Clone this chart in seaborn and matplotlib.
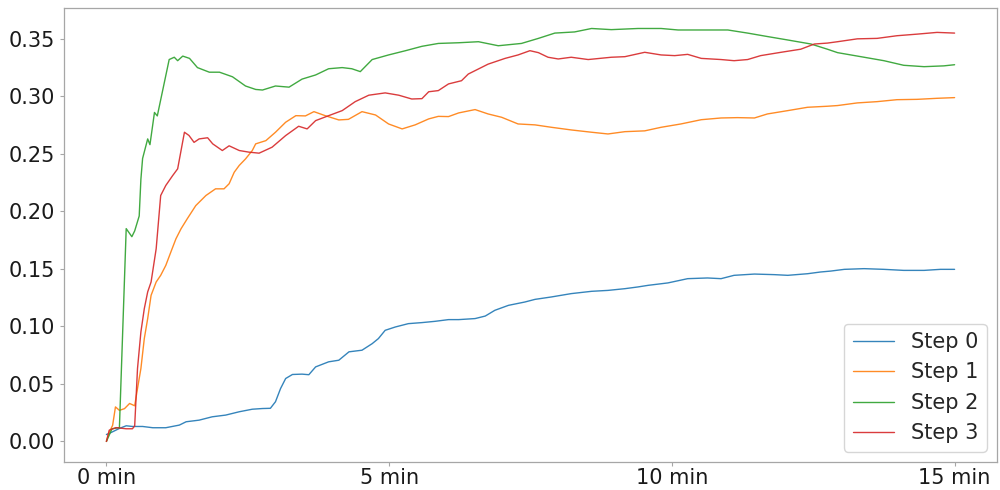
import pandas as pd
import matplotlib
matplotlib.use("Agg")
import matplotlib.pyplot as plt
import seaborn as sns

t_step0 = [0, 0.05, 0.11, 0.23, 0.35, 0.46, 0.64, 0.82, 1.05, 1.29, 1.41, 1.64, 1.87, 2.11, 2.35, 2.58,
           2.76, 2.90, 2.99, 3.08, 3.17, 3.29, 3.46, 3.58, 3.70, 3.93, 4.11, 4.29, 4.52, 4.70, 4.81, 4.93,
           5.11, 5.34, 5.58, 5.81, 6.05, 6.23, 6.52, 6.70, 6.87, 7.11, 7.40, 7.58, 7.87, 8.22, 8.58, 8.87,
           9.17, 9.40, 9.58, 9.93, 10.28, 10.63, 10.87, 11.10, 11.46, 11.81, 12.05, 12.40, 12.63, 12.81,
           13.05, 13.40, 13.75, 14.10, 14.46, 14.75, 15.0]
v_step0 = [0.006, 0.007, 0.0084, 0.0113, 0.0136, 0.013, 0.013, 0.0119, 0.0119, 0.0142, 0.0171, 0.0185,
           0.0214, 0.0229, 0.0258, 0.028, 0.0286, 0.0288, 0.0345, 0.046, 0.0547, 0.0582, 0.0585, 0.058,
           0.0648, 0.0692, 0.0706, 0.0779, 0.0793, 0.085, 0.0894, 0.0966, 0.0995, 0.1024, 0.1033, 0.1044,
           0.1059, 0.1059, 0.1068, 0.109, 0.114, 0.1183, 0.1212, 0.1235, 0.1256, 0.1285, 0.1305, 0.1313,
           0.1328, 0.1343, 0.1357, 0.1378, 0.1415, 0.1421, 0.1415, 0.1444, 0.1455, 0.145, 0.1444, 0.1458,
           0.1473, 0.1481, 0.1496, 0.1502, 0.1496, 0.1487, 0.1487, 0.1496, 0.1496]

t_step1 = [0, 0.05, 0.11, 0.16, 0.23, 0.32, 0.41, 0.5, 0.55, 0.61, 0.67, 0.73, 0.79, 0.88, 0.96, 1.05,
           1.14, 1.23, 1.32, 1.43, 1.58, 1.76, 1.93, 2.08, 2.17, 2.26, 2.35, 2.46, 2.58, 2.64, 2.82, 2.99,
           3.17, 3.35, 3.52, 3.67, 3.87, 4.11, 4.28, 4.52, 4.76, 4.99, 5.23, 5.46, 5.70, 5.87, 6.05, 6.23,
           6.52, 6.75, 6.99, 7.28, 7.58, 7.87, 8.22, 8.58, 8.87, 9.17, 9.52, 9.81, 10.16, 10.52, 10.87,
           11.16, 11.46, 11.69, 12.05, 12.40, 12.75, 12.93, 13.28, 13.63, 13.98, 14.34, 14.69, 15.0]
v_step1 = [0.0, 0.008, 0.014, 0.030, 0.027, 0.0285, 0.033, 0.031, 0.046, 0.0634, 0.0894, 0.1068, 0.127,
           0.1386, 0.1444, 0.153, 0.1647, 0.1762, 0.1849, 0.1936, 0.205, 0.2138, 0.2196, 0.2196, 0.224,
           0.234, 0.24, 0.2456, 0.2529, 0.2587, 0.2615, 0.2688, 0.2775, 0.2832, 0.283, 0.2867, 0.2832,
           0.2795, 0.28, 0.2867, 0.2838, 0.276, 0.2717, 0.2752, 0.2804, 0.2826, 0.2824, 0.2856, 0.2885,
           0.2847, 0.2818, 0.276, 0.2752, 0.2731, 0.2708, 0.2688, 0.2673, 0.2693, 0.270, 0.2731, 0.276,
           0.2797, 0.2812, 0.2815, 0.2812, 0.2847, 0.2876, 0.2905, 0.2914, 0.292, 0.2943, 0.2954, 0.2971,
           0.2974, 0.2983, 0.2989]

t_step2 = [0, 0.1, 0.23, 0.35, 0.45, 0.5, 0.58, 0.61, 0.64, 0.73, 0.77, 0.85, 0.90, 0.99, 1.11, 1.20,
           1.26, 1.35, 1.47, 1.61, 1.82, 2.0, 2.23, 2.46, 2.64, 2.76, 2.99, 3.23, 3.46, 3.70, 3.93, 4.17,
           4.34, 4.49, 4.70, 4.99, 5.29, 5.58, 5.87, 6.23, 6.58, 6.93, 7.34, 7.64, 7.93, 8.28, 8.58, 8.93,
           9.40, 9.81, 10.11, 10.52, 10.99, 11.34, 11.69, 12.05, 12.46, 12.75, 12.93, 13.40, 13.75, 14.10,
           14.46, 14.81, 15.0]
v_step2 = [0.0, 0.011, 0.012, 0.185, 0.178, 0.183, 0.196, 0.228, 0.246, 0.263, 0.258, 0.286, 0.283,
           0.304, 0.332, 0.334, 0.331, 0.335, 0.333, 0.325, 0.321, 0.321, 0.317, 0.309, 0.306, 0.3055,
           0.309, 0.308, 0.315, 0.3186, 0.324, 0.325, 0.324, 0.3215, 0.332, 0.336, 0.3397, 0.3435, 0.346,
           0.3466, 0.3475, 0.344, 0.346, 0.3504, 0.355, 0.356, 0.359, 0.358, 0.359, 0.359, 0.3577, 0.3577,
           0.3577, 0.355, 0.352, 0.349, 0.3455, 0.341, 0.338, 0.334, 0.331, 0.327, 0.3258, 0.3265, 0.3275]

t_step3 = [0, 0.05, 0.17, 0.35, 0.46, 0.50, 0.55, 0.61, 0.67, 0.73, 0.79, 0.88, 0.96, 1.05, 1.17, 1.26,
           1.38, 1.46, 1.55, 1.64, 1.79, 1.88, 2.05, 2.17, 2.35, 2.52, 2.70, 2.93, 3.17, 3.40, 3.55, 3.70,
           3.93, 4.17, 4.40, 4.64, 4.93, 5.17, 5.40, 5.58, 5.70, 5.87, 6.05, 6.28, 6.40, 6.75, 7.05, 7.28,
           7.49, 7.64, 7.81, 7.99, 8.22, 8.52, 8.93, 9.17, 9.52, 9.81, 10.05, 10.28, 10.52, 10.87, 11.10,
           11.34, 11.57, 11.93, 12.28, 12.52, 12.75, 12.93, 13.28, 13.63, 13.98, 14.34, 14.69, 15.0]
v_step3 = [0.0, 0.0098, 0.012, 0.011, 0.011, 0.0135, 0.0634, 0.0952, 0.1154, 0.13, 0.1386, 0.1675,
           0.2138, 0.2225, 0.231, 0.237, 0.2688, 0.266, 0.260, 0.263, 0.264, 0.2587, 0.2529, 0.257, 0.2529,
           0.2515, 0.2506, 0.2558, 0.2659, 0.274, 0.2717, 0.2789, 0.2832, 0.2876, 0.2954, 0.301, 0.303,
           0.301, 0.2977, 0.298, 0.304, 0.305, 0.3108, 0.3136, 0.3194, 0.328, 0.333, 0.336, 0.3397, 0.338,
           0.334, 0.3325, 0.334, 0.332, 0.334, 0.3345, 0.3383, 0.336, 0.3354, 0.3365, 0.333, 0.332, 0.331,
           0.332, 0.3354, 0.3383, 0.341, 0.3455, 0.3463, 0.3475, 0.35, 0.3504, 0.3527, 0.3541, 0.3556, 0.355]

step_names = ["Step 0", "Step 1", "Step 2", "Step 3"]
x_ticks = [0, 5, 10, 15]
x_tick_labels = ["0 min", "5 min", "10 min", "15 min"]

# Tabla larga para seaborn
series = [(t_step0, v_step0), (t_step1, v_step1), (t_step2, v_step2), (t_step3, v_step3)]
partes = []
for nombre, (t, v) in zip(step_names, series):
    partes.append(pd.DataFrame({"tiempo": t, "valor": v, "step": nombre}))
df = pd.concat(partes, ignore_index=True)

sns.set_style("ticks")
plt.rcParams["axes.edgecolor"] = "#a6a6a6"
plt.rcParams["xtick.color"] = "#a6a6a6"
plt.rcParams["ytick.color"] = "#a6a6a6"

fig = plt.figure(figsize=(10, 4.9), dpi=100)
ax = fig.add_axes([0.064, 0.057, 0.933, 0.927])

sns.lineplot(data=df, x="tiempo", y="valor", hue="step", hue_order=step_names,
             palette=sns.color_palette("tab10", 4), estimator=None, linewidth=1.0,
             alpha=0.9, ax=ax)

ax.set_xticks(x_ticks)
ax.set_xticklabels(x_tick_labels)
ax.set_xlabel("")
ax.set_ylabel("")
ax.tick_params(axis="both", labelsize=15, labelcolor="#1a1a1a", length=3, width=0.8)
ax.tick_params(axis="x", pad=1.5)
for s in ax.spines.values():
    s.set_linewidth(0.9)

handles, labels = ax.get_legend_handles_labels()
ax.legend(handles, labels, loc="lower right", fontsize=15, frameon=True)

fig.savefig("out.png", dpi=100)
